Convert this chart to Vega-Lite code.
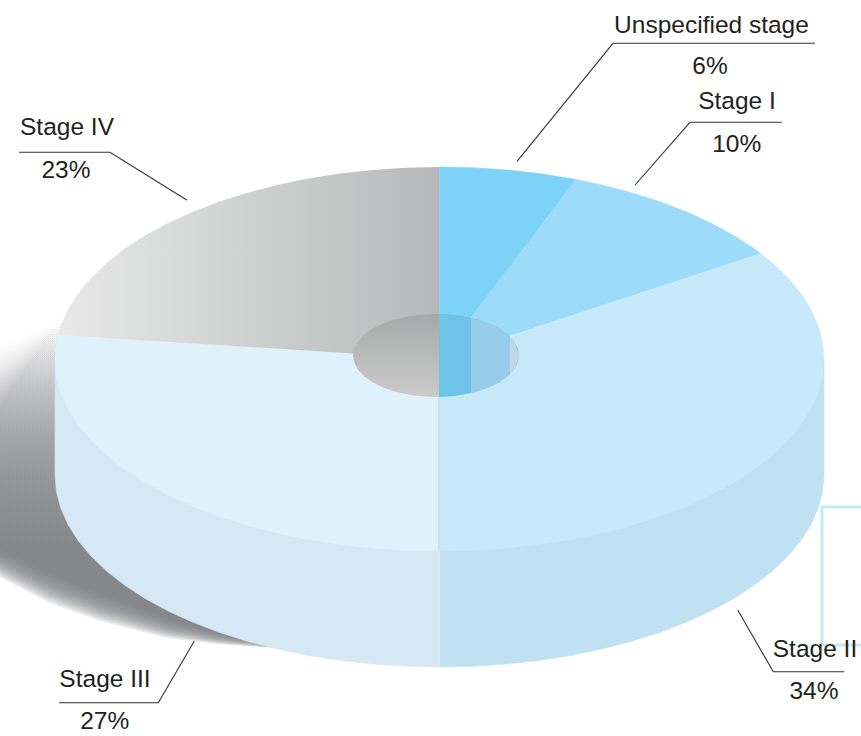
{"$schema":"https://vega.github.io/schema/vega-lite/v6.json","width":861,"height":736,"padding":0,"autosize":{"type":"none"},"background":"#ffffff","config":{"view":{"stroke":null}},
"encoding":{"x":{"field":"x","type":"quantitative","axis":null,"scale":{"domain":[-1.14304,1.09623],"nice":false,"zero":false}},"y":{"field":"y","type":"quantitative","axis":null,"scale":{"domain":[-1.96354,1.86979],"nice":false,"zero":false}}},
"layer":[
{"data":{"name":"shadow"},"transform":[{"window":[{"op":"row_number","as":"o"}]}],"mark":{"type":"line","strokeWidth":0,"fill":{"gradient":"linear","x1":0,"y1":0,"x2":0,"y2":1,"stops":[{"offset":0,"color":"rgba(122,123,127,0)"},{"offset":0.25,"color":"rgba(122,123,127,0.055)"},{"offset":0.7,"color":"rgba(122,123,127,0.169)"},{"offset":1,"color":"rgba(122,123,127,0.169)"}]}},"encoding":{"detail":{"field":"p"},"order":{"field":"o","type":"quantitative"}}},
{"data":{"name":"walls"},"transform":[{"window":[{"op":"row_number","as":"o"}]}],"mark":{"type":"line","strokeWidth":0.6},"encoding":{"fill":{"field":"p","legend":null,"scale":{"domain":["Stage II wall","Stage III wall","Unspecified stage","Stage I","Stage II","Stage III","u","i","ii"],"range":["#c0e1f2","#d6e8f3","#7dd3f7","#9cdbf9","#c7e9fa","#dff2fc","#6fc3e8","#97cdea","#bcd9e9"]}},"stroke":{"field":"p","legend":null,"scale":{"domain":["Stage II wall","Stage III wall","Unspecified stage","Stage I","Stage II","Stage III","u","i","ii"],"range":["#c0e1f2","#d6e8f3","#7dd3f7","#9cdbf9","#c7e9fa","#dff2fc","#6fc3e8","#97cdea","#bcd9e9"]}},"order":{"field":"o","type":"quantitative"}}},
{"data":{"name":"slices"},"transform":[{"window":[{"op":"row_number","as":"o"}]}],"mark":{"type":"line","strokeWidth":0.6},"encoding":{"fill":{"field":"p","legend":null},"stroke":{"field":"p","legend":null},"order":{"field":"o","type":"quantitative"}}},
{"data":{"name":"stage4"},"transform":[{"window":[{"op":"row_number","as":"o"}]}],"mark":{"type":"line","strokeWidth":0,"fill":{"gradient":"linear","x1":0,"y1":0,"x2":1,"y2":0,"stops":[{"offset":0,"color":"#e8e8e8"},{"offset":1,"color":"#b6b9b9"}]}},"encoding":{"order":{"field":"o","type":"quantitative"}}},
{"data":{"name":"seam"},"transform":[{"window":[{"op":"row_number","as":"o"}]}],"mark":{"type":"line","stroke":"#aed7ec","strokeWidth":1},"encoding":{"order":{"field":"o","type":"quantitative"}}},
{"data":{"name":"hole"},"transform":[{"window":[{"op":"row_number","as":"o"}]}],"mark":{"type":"line","strokeWidth":0,"fill":{"gradient":"linear","x1":0,"y1":0,"x2":0,"y2":1,"stops":[{"offset":0,"color":"#a6a9a9"},{"offset":1,"color":"#cbcbca"}]}},"encoding":{"order":{"field":"o","type":"quantitative"}}},
{"data":{"name":"bands"},"transform":[{"window":[{"op":"row_number","as":"o"}]}],"mark":{"type":"line","strokeWidth":0},"encoding":{"fill":{"field":"p","legend":null},"order":{"field":"o","type":"quantitative"}}},
{"data":{"name":"bracket"},"transform":[{"window":[{"op":"row_number","as":"o"}]}],"mark":{"type":"line","stroke":"#c6e9f9","strokeWidth":3},"encoding":{"order":{"field":"o","type":"quantitative"}}},
{"data":{"name":"leaders"},"transform":[{"window":[{"op":"row_number","as":"o"}]}],"mark":{"type":"line","stroke":"#333333","strokeWidth":1.1},"encoding":{"detail":{"field":"p"},"order":{"field":"o","type":"quantitative"}}},
{"data":{"name":"labels"},"mark":{"type":"text","font":"Liberation Sans","fontSize":24.5,"fill":"#231f20","baseline":"alphabetic","align":"center"},"encoding":{"text":{"field":"t"}}}
],
"datasets":{
"shadow":[
{"p":"a","x":-1.143,"y":-0.9896},{"p":"a","x":-1.013,"y":-1.1146},{"p":"a","x":-0.883,"y":-1.2188},{"p":"a","x":-0.7087,"y":-1.349},{"p":"a","x":-0.5787,"y":-1.4219},{"p":"a","x":-0.3628,"y":-1.5156},{"p":"a","x":-0.3628,"y":-0.7344},{"p":"a","x":-0.6229,"y":0.0729},{"p":"a","x":-0.987,"y":0.2031},{"p":"a","x":-1.143,"y":0.0729},
{"p":"b","x":-1.143,"y":-1.0017},{"p":"b","x":-1.013,"y":-1.1276},{"p":"b","x":-0.883,"y":-1.2309},{"p":"b","x":-0.7087,"y":-1.3577},{"p":"b","x":-0.5787,"y":-1.4271},{"p":"b","x":-0.3628,"y":-1.5156},{"p":"b","x":-0.3628,"y":-0.7344},{"p":"b","x":-0.6229,"y":0.0729},{"p":"b","x":-0.987,"y":0.2031},{"p":"b","x":-1.143,"y":0.0469},
{"p":"c","x":-1.143,"y":-1.0139},{"p":"c","x":-1.013,"y":-1.1406},{"p":"c","x":-0.883,"y":-1.2431},{"p":"c","x":-0.7087,"y":-1.3663},{"p":"c","x":-0.5787,"y":-1.4323},{"p":"c","x":-0.3628,"y":-1.5156},{"p":"c","x":-0.3628,"y":-0.7344},{"p":"c","x":-0.6229,"y":0.0729},{"p":"c","x":-0.987,"y":0.2031},{"p":"c","x":-1.143,"y":0.0208},
{"p":"d","x":-1.143,"y":-1.026},{"p":"d","x":-1.013,"y":-1.1536},{"p":"d","x":-0.883,"y":-1.2552},{"p":"d","x":-0.7087,"y":-1.375},{"p":"d","x":-0.5787,"y":-1.4375},{"p":"d","x":-0.3628,"y":-1.5156},{"p":"d","x":-0.3628,"y":-0.7344},{"p":"d","x":-0.6229,"y":0.0729},{"p":"d","x":-0.987,"y":0.2031},{"p":"d","x":-1.143,"y":-0.0052},
{"p":"e","x":-1.143,"y":-1.0382},{"p":"e","x":-1.013,"y":-1.1667},{"p":"e","x":-0.883,"y":-1.2674},{"p":"e","x":-0.7087,"y":-1.3837},{"p":"e","x":-0.5787,"y":-1.4427},{"p":"e","x":-0.3628,"y":-1.5156},{"p":"e","x":-0.3628,"y":-0.7344},{"p":"e","x":-0.6229,"y":0.0729},{"p":"e","x":-0.987,"y":0.2031},{"p":"e","x":-1.143,"y":-0.0313},
{"p":"f","x":-1.143,"y":-1.0504},{"p":"f","x":-1.013,"y":-1.1797},{"p":"f","x":-0.883,"y":-1.2795},{"p":"f","x":-0.7087,"y":-1.3924},{"p":"f","x":-0.5787,"y":-1.4479},{"p":"f","x":-0.3628,"y":-1.5156},{"p":"f","x":-0.3628,"y":-0.7344},{"p":"f","x":-0.6229,"y":0.0729},{"p":"f","x":-0.987,"y":0.2031},{"p":"f","x":-1.143,"y":-0.0573},
{"p":"g","x":-1.143,"y":-1.0625},{"p":"g","x":-1.013,"y":-1.1927},{"p":"g","x":-0.883,"y":-1.2917},{"p":"g","x":-0.7087,"y":-1.401},{"p":"g","x":-0.5787,"y":-1.4531},{"p":"g","x":-0.3628,"y":-1.5156},{"p":"g","x":-0.3628,"y":-0.7344},{"p":"g","x":-0.6229,"y":0.0729},{"p":"g","x":-0.987,"y":0.2031},{"p":"g","x":-1.143,"y":-0.0833},
{"p":"h","x":-1.143,"y":-1.0746},{"p":"h","x":-1.013,"y":-1.2057},{"p":"h","x":-0.883,"y":-1.3038},{"p":"h","x":-0.7087,"y":-1.4097},{"p":"h","x":-0.5787,"y":-1.4583},{"p":"h","x":-0.3628,"y":-1.5156},{"p":"h","x":-0.3628,"y":-0.7344},{"p":"h","x":-0.6229,"y":0.0729},{"p":"h","x":-0.987,"y":0.2031},{"p":"h","x":-1.143,"y":-0.1094},
{"p":"i","x":-1.143,"y":-1.0868},{"p":"i","x":-1.013,"y":-1.2188},{"p":"i","x":-0.883,"y":-1.316},{"p":"i","x":-0.7087,"y":-1.4184},{"p":"i","x":-0.5787,"y":-1.4635},{"p":"i","x":-0.3628,"y":-1.5156},{"p":"i","x":-0.3628,"y":-0.7344},{"p":"i","x":-0.6229,"y":0.0729},{"p":"i","x":-0.987,"y":0.2031},{"p":"i","x":-1.143,"y":-0.1354},
{"p":"j","x":-1.143,"y":-1.099},{"p":"j","x":-1.013,"y":-1.2318},{"p":"j","x":-0.883,"y":-1.3281},{"p":"j","x":-0.7087,"y":-1.4271},{"p":"j","x":-0.5787,"y":-1.4688},{"p":"j","x":-0.3628,"y":-1.5156},{"p":"j","x":-0.3628,"y":-0.7344},{"p":"j","x":-0.6229,"y":0.0729},{"p":"j","x":-0.987,"y":0.2031},{"p":"j","x":-1.143,"y":-0.1615},
{"p":"k","x":-1.143,"y":-1.1111},{"p":"k","x":-1.013,"y":-1.2448},{"p":"k","x":-0.883,"y":-1.3403},{"p":"k","x":-0.7087,"y":-1.4358},{"p":"k","x":-0.5787,"y":-1.474},{"p":"k","x":-0.3628,"y":-1.5156},{"p":"k","x":-0.3628,"y":-0.7344},{"p":"k","x":-0.6229,"y":0.0729},{"p":"k","x":-0.987,"y":0.2031},{"p":"k","x":-1.143,"y":-0.1875},
{"p":"l","x":-1.143,"y":-1.1233},{"p":"l","x":-1.013,"y":-1.2578},{"p":"l","x":-0.883,"y":-1.3524},{"p":"l","x":-0.7087,"y":-1.4444},{"p":"l","x":-0.5787,"y":-1.4792},{"p":"l","x":-0.3628,"y":-1.5156},{"p":"l","x":-0.3628,"y":-0.7344},{"p":"l","x":-0.6229,"y":0.0729},{"p":"l","x":-0.987,"y":0.2031},{"p":"l","x":-1.143,"y":-0.2135},
{"p":"m","x":-1.143,"y":-1.1354},{"p":"m","x":-1.013,"y":-1.2708},{"p":"m","x":-0.883,"y":-1.3646},{"p":"m","x":-0.7087,"y":-1.4531},{"p":"m","x":-0.5787,"y":-1.4844},{"p":"m","x":-0.3628,"y":-1.5156},{"p":"m","x":-0.3628,"y":-0.7344},{"p":"m","x":-0.6229,"y":0.0729},{"p":"m","x":-0.987,"y":0.2031},{"p":"m","x":-1.143,"y":-0.2396}
],
"walls":[
{"p":"Stage II wall","x":0,"y":0},{"p":"Stage II wall","x":1,"y":0},{"p":"Stage II wall","x":1,"y":-0.604},{"p":"Stage II wall","x":0.9962,"y":-0.6912},{"p":"Stage II wall","x":0.9848,"y":-0.7776},{"p":"Stage II wall","x":0.9659,"y":-0.8628},{"p":"Stage II wall","x":0.9397,"y":-0.946},{"p":"Stage II wall","x":0.9063,"y":-1.0266},{"p":"Stage II wall","x":0.866,"y":-1.104},{"p":"Stage II wall","x":0.8192,"y":-1.1776},{"p":"Stage II wall","x":0.766,"y":-1.2468},{"p":"Stage II wall","x":0.7071,"y":-1.3111},{"p":"Stage II wall","x":0.6428,"y":-1.37},{"p":"Stage II wall","x":0.5736,"y":-1.4232},{"p":"Stage II wall","x":0.5,"y":-1.47},{"p":"Stage II wall","x":0.4226,"y":-1.5103},{"p":"Stage II wall","x":0.342,"y":-1.5437},{"p":"Stage II wall","x":0.2588,"y":-1.5699},{"p":"Stage II wall","x":0.1736,"y":-1.5888},{"p":"Stage II wall","x":0.0872,"y":-1.6002},{"p":"Stage II wall","x":0,"y":-1.604},
{"p":"Stage III wall","x":0,"y":0},{"p":"Stage III wall","x":-1,"y":0},{"p":"Stage III wall","x":-1,"y":-0.604},{"p":"Stage III wall","x":-0.9962,"y":-0.6912},{"p":"Stage III wall","x":-0.9848,"y":-0.7776},{"p":"Stage III wall","x":-0.9659,"y":-0.8628},{"p":"Stage III wall","x":-0.9397,"y":-0.946},{"p":"Stage III wall","x":-0.9063,"y":-1.0266},{"p":"Stage III wall","x":-0.866,"y":-1.104},{"p":"Stage III wall","x":-0.8192,"y":-1.1776},{"p":"Stage III wall","x":-0.766,"y":-1.2468},{"p":"Stage III wall","x":-0.7071,"y":-1.3111},{"p":"Stage III wall","x":-0.6428,"y":-1.37},{"p":"Stage III wall","x":-0.5736,"y":-1.4232},{"p":"Stage III wall","x":-0.5,"y":-1.47},{"p":"Stage III wall","x":-0.4226,"y":-1.5103},{"p":"Stage III wall","x":-0.342,"y":-1.5437},{"p":"Stage III wall","x":-0.2588,"y":-1.5699},{"p":"Stage III wall","x":-0.1736,"y":-1.5888},{"p":"Stage III wall","x":-0.0872,"y":-1.6002},{"p":"Stage III wall","x":0,"y":-1.604}
],
"slices":[
{"p":"Unspecified stage","x":0,"y":0},{"p":"Unspecified stage","x":0,"y":1},{"p":"Unspecified stage","x":0.0872,"y":0.9962},{"p":"Unspecified stage","x":0.1736,"y":0.9848},{"p":"Unspecified stage","x":0.2588,"y":0.9659},{"p":"Unspecified stage","x":0.342,"y":0.9397},{"p":"Unspecified stage","x":0.3551,"y":0.9348},{"p":"Unspecified stage","x":0,"y":0},
{"p":"Stage I","x":0,"y":0},{"p":"Stage I","x":0.3551,"y":0.9348},{"p":"Stage I","x":0.4226,"y":0.9063},{"p":"Stage I","x":0.5,"y":0.866},{"p":"Stage I","x":0.5736,"y":0.8192},{"p":"Stage I","x":0.6428,"y":0.766},{"p":"Stage I","x":0.7071,"y":0.7071},{"p":"Stage I","x":0.766,"y":0.6428},{"p":"Stage I","x":0.8192,"y":0.5736},{"p":"Stage I","x":0.8358,"y":0.549},{"p":"Stage I","x":0,"y":0},
{"p":"Stage II","x":0,"y":0},{"p":"Stage II","x":0.8358,"y":0.549},{"p":"Stage II","x":0.866,"y":0.5},{"p":"Stage II","x":0.9063,"y":0.4226},{"p":"Stage II","x":0.9397,"y":0.342},{"p":"Stage II","x":0.9659,"y":0.2588},{"p":"Stage II","x":0.9848,"y":0.1736},{"p":"Stage II","x":0.9962,"y":0.0872},{"p":"Stage II","x":1,"y":0},{"p":"Stage II","x":0.9962,"y":-0.0872},{"p":"Stage II","x":0.9848,"y":-0.1736},{"p":"Stage II","x":0.9659,"y":-0.2588},{"p":"Stage II","x":0.9397,"y":-0.342},{"p":"Stage II","x":0.9063,"y":-0.4226},{"p":"Stage II","x":0.866,"y":-0.5},{"p":"Stage II","x":0.8192,"y":-0.5736},{"p":"Stage II","x":0.766,"y":-0.6428},{"p":"Stage II","x":0.7071,"y":-0.7071},{"p":"Stage II","x":0.6428,"y":-0.766},{"p":"Stage II","x":0.5736,"y":-0.8192},{"p":"Stage II","x":0.5,"y":-0.866},{"p":"Stage II","x":0.4226,"y":-0.9063},{"p":"Stage II","x":0.342,"y":-0.9397},{"p":"Stage II","x":0.2588,"y":-0.9659},{"p":"Stage II","x":0.1736,"y":-0.9848},{"p":"Stage II","x":0.0872,"y":-0.9962},{"p":"Stage II","x":0,"y":-1},{"p":"Stage II","x":0,"y":0},
{"p":"Stage III","x":0,"y":0},{"p":"Stage III","x":0,"y":-1},{"p":"Stage III","x":-0.0872,"y":-0.9962},{"p":"Stage III","x":-0.1736,"y":-0.9848},{"p":"Stage III","x":-0.2588,"y":-0.9659},{"p":"Stage III","x":-0.342,"y":-0.9397},{"p":"Stage III","x":-0.4226,"y":-0.9063},{"p":"Stage III","x":-0.5,"y":-0.866},{"p":"Stage III","x":-0.5736,"y":-0.8192},{"p":"Stage III","x":-0.6428,"y":-0.766},{"p":"Stage III","x":-0.7071,"y":-0.7071},{"p":"Stage III","x":-0.766,"y":-0.6428},{"p":"Stage III","x":-0.8192,"y":-0.5736},{"p":"Stage III","x":-0.866,"y":-0.5},{"p":"Stage III","x":-0.9063,"y":-0.4226},{"p":"Stage III","x":-0.9397,"y":-0.342},{"p":"Stage III","x":-0.9659,"y":-0.2588},{"p":"Stage III","x":-0.9848,"y":-0.1736},{"p":"Stage III","x":-0.9962,"y":-0.0872},{"p":"Stage III","x":-1,"y":0},{"p":"Stage III","x":-0.9962,"y":0.0872},{"p":"Stage III","x":-0.9921,"y":0.1253},{"p":"Stage III","x":0,"y":0}
],
"stage4":[
{"x":0,"y":0},{"x":-0.9921,"y":0.1253},{"x":-0.9848,"y":0.1736},{"x":-0.9659,"y":0.2588},{"x":-0.9397,"y":0.342},{"x":-0.9063,"y":0.4226},{"x":-0.866,"y":0.5},{"x":-0.8192,"y":0.5736},{"x":-0.766,"y":0.6428},{"x":-0.7071,"y":0.7071},{"x":-0.6428,"y":0.766},{"x":-0.5736,"y":0.8192},{"x":-0.5,"y":0.866},{"x":-0.4226,"y":0.9063},{"x":-0.342,"y":0.9397},{"x":-0.2588,"y":0.9659},{"x":-0.1736,"y":0.9848},{"x":-0.0872,"y":0.9962},{"x":0,"y":1}
],
"seam":[{"x":-0.0013,"y":0},{"x":-0.0013,"y":-1}],
"hole":[
{"x":-0.0091,"y":0.2343},{"x":0.0284,"y":0.231},{"x":0.0647,"y":0.2213},{"x":0.0989,"y":0.2053},{"x":0.1297,"y":0.1837},{"x":0.1563,"y":0.1571},{"x":0.1779,"y":0.1263},{"x":0.1938,"y":0.0921},{"x":0.2035,"y":0.0557},{"x":0.2068,"y":0.0182},{"x":0.2035,"y":-0.0193},{"x":0.1938,"y":-0.0557},{"x":0.1779,"y":-0.0899},{"x":0.1563,"y":-0.1207},{"x":0.1297,"y":-0.1473},{"x":0.0989,"y":-0.1689},{"x":0.0647,"y":-0.1849},{"x":0.0284,"y":-0.1946},{"x":-0.0091,"y":-0.1979},{"x":-0.0466,"y":-0.1946},{"x":-0.0829,"y":-0.1849},{"x":-0.1171,"y":-0.1689},{"x":-0.1479,"y":-0.1473},{"x":-0.1745,"y":-0.1207},{"x":-0.1961,"y":-0.0899},{"x":-0.212,"y":-0.0557},{"x":-0.2217,"y":-0.0193},{"x":-0.225,"y":0.0182},{"x":-0.2217,"y":0.0557},{"x":-0.212,"y":0.0921},{"x":-0.1961,"y":0.1263},{"x":-0.1745,"y":0.1571},{"x":-0.1479,"y":0.1837},{"x":-0.1171,"y":0.2053},{"x":-0.0829,"y":0.2213},{"x":-0.0466,"y":0.231}
],
"bands":[
{"p":"u","x":-0.0013,"y":0.2341},{"p":"u","x":0.0403,"y":0.2285},{"p":"u","x":0.0819,"y":0.2141},{"p":"u","x":0.0819,"y":-0.1777},{"p":"u","x":0.0403,"y":-0.1921},{"p":"u","x":-0.0013,"y":-0.1977},
{"p":"i","x":0.0819,"y":0.2141},{"p":"i","x":0.1053,"y":0.2015},{"p":"i","x":0.1314,"y":0.1822},{"p":"i","x":0.1574,"y":0.1559},{"p":"i","x":0.1834,"y":0.1161},{"p":"i","x":0.1834,"y":-0.0797},{"p":"i","x":0.1574,"y":-0.1195},{"p":"i","x":0.1314,"y":-0.1458},{"p":"i","x":0.1053,"y":-0.1651},{"p":"i","x":0.0819,"y":-0.1777},
{"p":"ii","x":0.1834,"y":0.1161},{"p":"ii","x":0.1964,"y":0.0845},{"p":"ii","x":0.2068,"y":0.0182},{"p":"ii","x":0.1964,"y":-0.0481},{"p":"ii","x":0.1834,"y":-0.0797}
],
"bracket":[{"x":1.0962,"y":-0.7708},{"x":0.9948,"y":-0.7708},{"x":0.9948,"y":-1.4896},{"x":1.0962,"y":-1.4896}],
"leaders":[
{"p":"Unspecified stage","x":0.2016,"y":1.0297},{"p":"Unspecified stage","x":0.4512,"y":1.6443},{"p":"Unspecified stage","x":0.9766,"y":1.6443},
{"p":"Stage I","x":0.5085,"y":0.9063},{"p":"Stage I","x":0.6515,"y":1.2328},{"p":"Stage I","x":0.89,"y":1.2328},
{"p":"Stage IV","x":-1.0936,"y":1.0766},{"p":"Stage IV","x":-0.857,"y":1.0766},{"p":"Stage IV","x":-0.6575,"y":0.8281},
{"p":"Stage III","x":-0.6377,"y":-1.4688},{"p":"Stage III","x":-0.7313,"y":-1.7901},{"p":"Stage III","x":-0.9896,"y":-1.7901},
{"p":"Stage II","x":0.7756,"y":-1.3073},{"p":"Stage II","x":0.8682,"y":-1.6286},{"p":"Stage II","x":1.0528,"y":-1.6286}
],
"labels":[
{"t":"Unspecified stage","x":0.7074,"y":1.7005},{"t":"6%","x":0.7035,"y":1.4818},
{"t":"Stage I","x":0.7737,"y":1.3021},{"t":"10%","x":0.773,"y":1.0797},
{"t":"Stage IV","x":-0.9688,"y":1.1667},{"t":"23%","x":-0.9714,"y":0.9411},
{"t":"Stage III","x":-0.87,"y":-1.7083},{"t":"27%","x":-0.8707,"y":-1.9286},
{"t":"Stage II","x":0.9766,"y":-1.5505},{"t":"34%","x":0.974,"y":-1.7708}
]
}}
